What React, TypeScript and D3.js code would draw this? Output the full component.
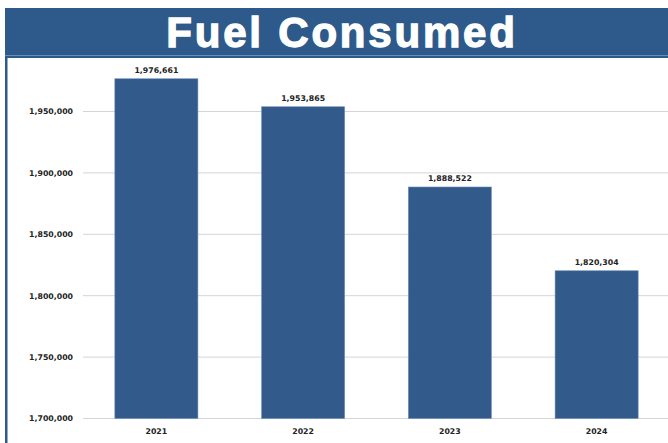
import React from "react";
import * as d3 from "d3";

const years = ["2021", "2022", "2023", "2024"];
const fuel = [1976661, 1953865, 1888522, 1820304];
const yTicks = [1700000, 1750000, 1800000, 1850000, 1900000, 1950000];
const title = "Fuel Consumed";

const W = 668;
const H = 443;

export default function App() {
  const x = d3.scaleBand<string>().domain(years).range([83, 670]).paddingInner(0.434).paddingOuter(0.217);
  const y = d3.scaleLinear().domain([1700000, 2000000]).range([418.5, 50.1]);
  const fmt = d3.format(",");
  const tickFont = "'DejaVu Sans', Verdana, sans-serif";
  return (
    <svg width={W} height={H} style={{ position: "fixed", left: 0, top: 0, background: "#fff" }}>
      <rect x={0} y={0} width={W} height={H} fill="#fff" />
      {/* header */}
      <rect x={5} y={8} width={W - 5} height={50} fill="#2d5a8a" />
      <rect x={5} y={55} width={W - 5} height={1} fill="#6a8fbd" />
      <text
        x={342}
        y={47}
        textAnchor="middle"
        fill="#fff"
        stroke="#fff"
        strokeWidth={1.3}
        letterSpacing={2.8}
        fontFamily="'Liberation Sans', Arial, sans-serif"
        fontWeight="bold"
        fontSize={42}
      >
        {title}
      </text>
      {/* left border */}
      <rect x={5} y={58} width={2.5} height={H - 58} fill="#2d5a8a" />
      {/* grid + y labels */}
      {yTicks.map((t) => (
        <g key={t}>
          <line x1={83} x2={W} y1={y(t)} y2={y(t)} stroke="#d4d4d4" strokeWidth={1} />
          <text x={73} y={y(t) + 2.8} textAnchor="end" fontFamily={tickFont} fontWeight="bold" fontSize={7.8} fill="#222">
            {fmt(t)}
          </text>
        </g>
      ))}
      {/* bars */}
      {years.map((yr, i) => (
        <g key={yr}>
          <rect
            x={x(yr)}
            y={y(fuel[i])}
            width={x.bandwidth()}
            height={y(1700000) - y(fuel[i])}
            fill="#325a8a"
            stroke="#6f8fb8"
            strokeWidth={0.6}
          />
          <text
            x={(x(yr) as number) + x.bandwidth() / 2}
            y={y(fuel[i]) - 6}
            textAnchor="middle"
            fontFamily={tickFont}
            fontWeight="bold"
            fontSize={7.8}
            fill="#222"
          >
            {fmt(fuel[i])}
          </text>
          <text
            x={(x(yr) as number) + x.bandwidth() / 2}
            y={434}
            textAnchor="middle"
            fontFamily={tickFont}
            fontWeight="bold"
            fontSize={7.8}
            fill="#222"
          >
            {yr}
          </text>
        </g>
      ))}
    </svg>
  );
}
